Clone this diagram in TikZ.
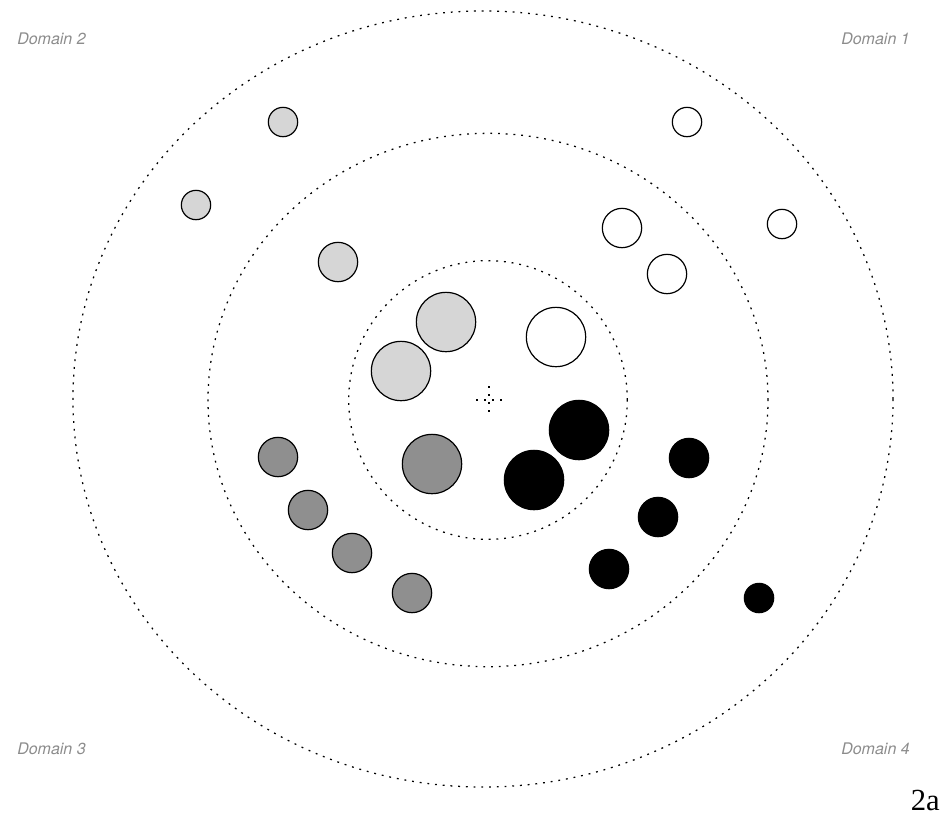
\documentclass[tikz,border=0pt]{standalone}
\usepackage{fontspec}
\setmainfont{Liberation Serif}
\newfontfamily\domainfont{TeX Gyre Heros}
\usetikzlibrary{positioning}
\tikzset{
  ring/.style={draw=black, line width=0.95pt, dash pattern=on 1.4pt off 4.4pt},
  hub_mark/.style={draw=black, line width=0.9pt, dash pattern=on 1.5pt off 4.5pt},
  blob/.style={circle, draw=black, line width=0.9pt, inner sep=0pt},
  blob_white/.style={blob, fill=white},
  blob_light/.style={blob, fill=black!16},
  blob_dark/.style={blob, fill=black!44},
  blob_black/.style={blob, fill=black},
  size_s/.style={minimum size=22pt},
  size_m/.style={minimum size=29.5pt},
  size_l/.style={minimum size=44.5pt},
  domain_label/.style={font=\domainfont\itshape\fontsize{12}{14}\selectfont, text=black!45, inner sep=0pt},
  tag_label/.style={font=\fontsize{23}{26}\selectfont, inner sep=0pt}
}

\begin{document}
\begin{tikzpicture}[x=0.75pt, y=-0.75pt]

      \useasboundingbox (0,0) rectangle (944,819);

      % rings
      \coordinate (hub) at (488,400);
      \coordinate (hub_outer) at (483,399);
      \draw[ring] (hub_outer) ellipse [x radius=307.5pt, y radius=291pt];
      \draw[ring] (hub) ellipse [x radius=210pt, y radius=200pt];
      \draw[ring] (hub) circle [radius=104.5pt];

      % centre mark
      \coordinate (mark_w) at (476,400);
      \coordinate (mark_e) at (504,400);
      \coordinate (mark_n) at (489,386);
      \coordinate (mark_s) at (489,414);
      \draw[hub_mark] (mark_w) -- (mark_e);
      \draw[hub_mark] (mark_n) -- (mark_s);

      % light group
      \node[blob_light, size_s] (light_a) at (283,122) {};
      \node[blob_light, size_s] (light_b) at (196,205) {};
      \node[blob_light, size_m] (light_c) at (338,262) {};
      \node[blob_light, size_l] (light_d) at (446,322) {};
      \node[blob_light, size_l] (light_e) at (401,371) {};

      % white group
      \node[blob_white, size_s] (white_a) at (687,122) {};
      \node[blob_white, size_s] (white_b) at (782,224) {};
      \node[blob_white, size_m] (white_c) at (622,228) {};
      \node[blob_white, size_m] (white_d) at (667,274) {};
      \node[blob_white, size_l] (white_e) at (556,337) {};

      % black group
      \node[blob_black, size_l] (black_a) at (579,430) {};
      \node[blob_black, size_l] (black_b) at (534,480) {};
      \node[blob_black, size_m] (black_c) at (689,458) {};
      \node[blob_black, size_m] (black_d) at (658,517) {};
      \node[blob_black, size_m] (black_e) at (609,569) {};
      \node[blob_black, size_s] (black_f) at (759,598) {};

      % dark group
      \node[blob_dark, size_l] (dark_a) at (432,464) {};
      \node[blob_dark, size_m] (dark_b) at (278,457) {};
      \node[blob_dark, size_m] (dark_c) at (308,510) {};
      \node[blob_dark, size_m] (dark_d) at (352,553) {};
      \node[blob_dark, size_m] (dark_e) at (412,593) {};

      % labels
      \node[domain_label, anchor=west] (domain_2) at (17,39) {Domain 2};
      \node[domain_label, anchor=east] (domain_1) at (910,39) {Domain 1};
      \node[domain_label, anchor=west] (domain_3) at (17,749) {Domain 3};
      \node[domain_label, anchor=east] (domain_4) at (910,749) {Domain 4};
      \node[tag_label, anchor=base east] (tag) at (940,810) {2a};

    \end{tikzpicture}
\end{document}
